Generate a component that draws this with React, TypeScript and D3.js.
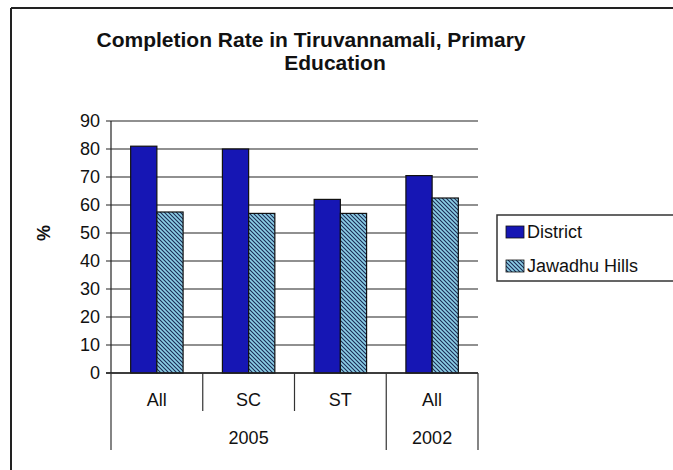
import { useRef, useEffect } from 'react'
import * as d3 from 'd3'

const CATEGORIES = ['All', 'SC', 'ST', 'All']
const YEARS = ['2005', '2005', '2005', '2002']
const SERIES = ['District', 'Jawadhu Hills']
const DISTRICT = [81, 80, 62, 70.5]
const JAWADHU = [57.5, 57, 57, 62.5]
const Y_TICKS = [0, 10, 20, 30, 40, 50, 60, 70, 80, 90]

const BLUE = '#1616b4'
const HATCH_BG = '#8ccfe6'
const FONT = '"Liberation Sans", Arial, sans-serif'

export default function App() {
  const svgRef = useRef<SVGSVGElement>(null)

  useEffect(() => {
    if (!svgRef.current) return
    const svg = d3.select(svgRef.current)
    svg.selectAll('*').remove()

    const W = 673
    const H = 470
    svg.attr('width', W).attr('height', H)
    svg.append('rect').attr('width', W).attr('height', H).attr('fill', '#fff')

    // hatch pattern
    const defs = svg.append('defs')
    const pat = defs
      .append('pattern')
      .attr('id', 'hatch')
      .attr('patternUnits', 'userSpaceOnUse')
      .attr('width', 4)
      .attr('height', 4)
    pat.append('rect').attr('width', 4).attr('height', 4).attr('fill', HATCH_BG)
    pat
      .append('path')
      .attr('d', 'M-1,-1 L5,5 M-1,3 L1,5 M3,-1 L5,1')
      .attr('stroke', '#1b2a55')
      .attr('stroke-width', 1.1)

    // frame
    svg.append('line').attr('x1', 11).attr('x2', 11).attr('y1', 8).attr('y2', H)
      .attr('stroke', '#222').attr('stroke-width', 2)
    svg.append('line').attr('x1', 11).attr('x2', W).attr('y1', 8).attr('y2', 8)
      .attr('stroke', '#222').attr('stroke-width', 2)

    // title
    const title = svg.append('g').attr('font-family', FONT).attr('font-weight', 700)
      .attr('font-size', 21).attr('fill', '#111').attr('text-anchor', 'middle')
    title.append('text').attr('x', 311).attr('y', 47).text('Completion Rate in Tiruvannamali, Primary')
    title.append('text').attr('x', 335).attr('y', 70).text('Education')

    const left = 111
    const right = 478
    const y = d3.scaleLinear().domain([0, 90]).range([373, 121])
    const x = d3.scaleBand<number>().domain(d3.range(CATEGORIES.length)).range([left, right]).padding(0)
    const xs = d3.scaleBand<string>().domain(SERIES).range([0, x.bandwidth()]).paddingInner(0).paddingOuter(0.75)

    // gridlines + ticks
    svg.append('g').selectAll('line')
      .data(Y_TICKS)
      .join('line')
      .attr('x1', left - 5)
      .attr('x2', right)
      .attr('y1', (d) => y(d))
      .attr('y2', (d) => y(d))
      .attr('stroke', '#222')
      .attr('stroke-width', 1.2)

    svg.append('g')
      .attr('font-family', FONT)
      .attr('font-size', 18)
      .attr('fill', '#111')
      .attr('text-anchor', 'end')
      .selectAll('text')
      .data(Y_TICKS)
      .join('text')
      .attr('x', 100)
      .attr('y', (d) => y(d))
      .attr('dy', '0.36em')
      .text((d) => d)

    // y-axis title
    svg.append('text')
      .attr('transform', `translate(50,233) rotate(-90)`)
      .attr('text-anchor', 'middle')
      .attr('font-family', FONT)
      .attr('font-weight', 700)
      .attr('font-size', 18)
      .attr('fill', '#111')
      .text('%')

    // bars
    const rows = CATEGORIES.map((_c, i) => ({ i, values: [DISTRICT[i], JAWADHU[i]] }))
    const bars = svg.append('g')
    rows.forEach((r) => {
      SERIES.forEach((s, k) => {
        bars.append('rect')
          .attr('x', (x(r.i) as number) + (xs(s) as number))
          .attr('y', y(r.values[k]))
          .attr('width', xs.bandwidth())
          .attr('height', y(0) - y(r.values[k]))
          .attr('fill', k === 0 ? BLUE : 'url(#hatch)')
          .attr('stroke', '#111')
          .attr('stroke-width', 1.2)
      })
    })

    // axes
    svg.append('line').attr('x1', left).attr('x2', left).attr('y1', y(90)).attr('y2', y(0))
      .attr('stroke', '#222').attr('stroke-width', 1.2)
    svg.append('line').attr('x1', left - 5).attr('x2', right).attr('y1', y(0)).attr('y2', y(0))
      .attr('stroke', '#222').attr('stroke-width', 1.4)

    // category dividers
    const bounds = d3.range(CATEGORIES.length + 1).map((i) => left + i * x.step())
    svg.append('g').selectAll('line')
      .data(bounds)
      .join('line')
      .attr('x1', (d) => d)
      .attr('x2', (d) => d)
      .attr('y1', y(0))
      .attr('y2', (_d, i) => (i === 0 || i === bounds.length - 1 || YEARS[i] !== YEARS[i - 1] ? 450 : 411))
      .attr('stroke', '#333')
      .attr('stroke-width', 1.2)

    const labels = svg.append('g').attr('font-family', FONT).attr('font-size', 18)
      .attr('fill', '#111').attr('text-anchor', 'middle')
    labels.selectAll('text.cat')
      .data(CATEGORIES)
      .join('text')
      .attr('class', 'cat')
      .attr('x', (_d, i) => (x(i) as number) + x.bandwidth() / 2)
      .attr('y', 406)
      .text((d) => d)

    const years = Array.from(new Set(YEARS)).map((yr) => {
      const idx = YEARS.map((v, i) => (v === yr ? i : -1)).filter((i) => i >= 0)
      return { yr, x0: x(idx[0]) as number, x1: (x(idx[idx.length - 1]) as number) + x.bandwidth() }
    })
    labels.selectAll('text.yr')
      .data(years)
      .join('text')
      .attr('class', 'yr')
      .attr('x', (d) => (d.x0 + d.x1) / 2)
      .attr('y', 444)
      .text((d) => d.yr)

    // legend
    const lg = svg.append('g').attr('font-family', FONT).attr('font-size', 18).attr('fill', '#111')
    lg.append('rect').attr('x', 497).attr('y', 215).attr('width', 190).attr('height', 66)
      .attr('fill', '#fff').attr('stroke', '#333').attr('stroke-width', 1.5)
    SERIES.forEach((s, k) => {
      const cy = 232 + k * 34
      lg.append('rect').attr('x', 506).attr('y', cy - 6).attr('width', 18).attr('height', 12)
        .attr('fill', k === 0 ? BLUE : 'url(#hatch)').attr('stroke', '#111').attr('stroke-width', 0.8)
      lg.append('text').attr('x', 527).attr('y', cy).attr('dy', '0.36em').text(s)
    })
  }, [])

  return (
    <div style={{ position: 'absolute', left: 0, top: 0 }}>
      <svg ref={svgRef} style={{ display: 'block' }} />
    </div>
  )
}
